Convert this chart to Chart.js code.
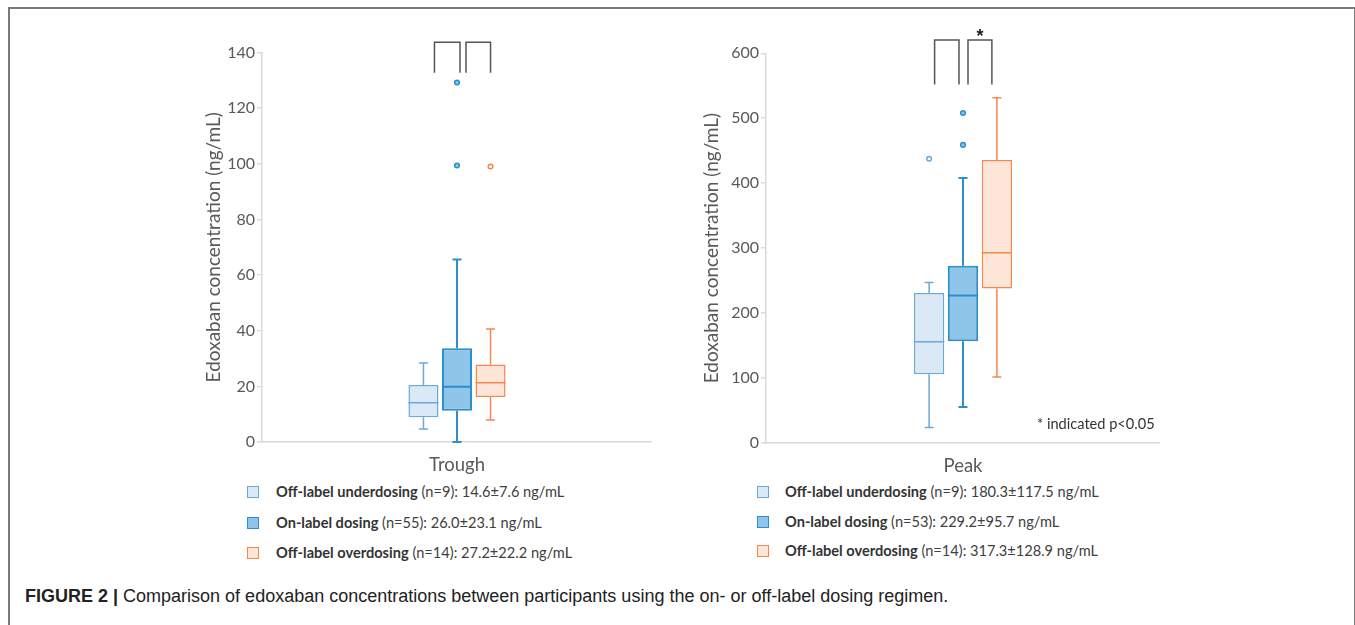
<!DOCTYPE html>
<html>
<head>
<meta charset="utf-8">
<script src="https://cdn.jsdelivr.net/npm/chart.js"></script>
<style>
  body { margin: 0; background: #fff; width: 1355px; height: 625px; overflow: hidden; position: relative; font-family: Lato, sans-serif; }
  .frame { position: absolute; left: 8px; top: 7px; width: 1344px; height: 700px; border: 2px solid #7a7a7a; border-bottom: none; }
  .box { position: absolute; }
  .legend { position: absolute; font-size: 14.6px; color: #404040; }
  .legend .row { position: absolute; white-space: nowrap; height: 20px; line-height: 20px; }
  .legend .sq { position: absolute; width: 10px; height: 10px; border: 1.5px solid; top: 4px; }
  .legend .txt { position: absolute; }
  .legend b { color: #333; }
  .note { position: absolute; left: 1037px; top: 415px; font-size: 14.6px; color: #333; white-space: nowrap; }
  .caption { position: absolute; left: 25px; top: 586px; font-family: "Liberation Sans", Arial, sans-serif; font-size: 18px; color: #222; white-space: nowrap; }
</style>
</head>
<body>
<div class="frame"></div>

<div class="box" style="left:190px; top:20px; width:462px; height:460px;">
  <canvas id="troughChart"></canvas>
</div>
<div class="box" style="left:690px; top:20px; width:470px; height:461px;">
  <canvas id="peakChart"></canvas>
</div>

<div class="note">* indicated p&lt;0.05</div>
<div class="legend" id="troughLegend"></div>
<div class="legend" id="peakLegend"></div>

<div class="caption"><b>FIGURE 2 |</b> Comparison of edoxaban concentrations between participants using the on- or off-label dosing regimen.</div>

<script>
// groups
const groups = ['Off-label underdosing', 'On-label dosing', 'Off-label overdosing'];

// trough values (ng/mL)
const troughMin = [4.7, 0, 7.9];
const troughQ1 = [8.9, 11.2, 16.2];
const troughMedian = [14.1, 19.9, 21.3];
const troughQ3 = [20.5, 33.7, 27.9];
const troughMax = [28.4, 65.6, 40.6];
const troughOutliers = [[], [99.4, 129.2], [99]];
const troughN = [9, 55, 14];
const troughMeanSd = ['14.6±7.6', '26.0±23.1', '27.2±22.2'];

// peak values (ng/mL)
const peakMin = [24, 55.5, 101.7];
const peakQ1 = [105.9, 156.7, 238];
const peakMedian = [156, 227, 292.8];
const peakQ3 = [231, 273, 435.6];
const peakMax = [247, 408, 531.6];
const peakOutliers = [[437.6], [459, 508], []];
const peakN = [9, 53, 14];
const peakMeanSd = ['180.3±117.5', '229.2±95.7', '317.3±128.9'];

const fills = ['#dbe9f6', '#8ec5e8', '#fde5d8'];
const borders = ['#6aaad9', '#2b8fcb', '#f5874f'];
const lineWidths = [1.5, 2, 1.5];
const dotFills = ['#ffffff', '#8ec5e8', '#ffffff'];

function boxPlugin(mins, meds, maxs, outs, bracket) {
  return {
    id: 'boxExtras',
    afterDatasetsDraw(chart) {
      const ctx = chart.ctx;
      const y = chart.scales.y;
      const centers = [];
      ctx.save();
      for (let i = 0; i < groups.length; i++) {
        const bar = chart.getDatasetMeta(i).data[0];
        const cx = bar.x, w = bar.width;
        centers.push(cx);
        ctx.strokeStyle = borders[i];
        ctx.lineWidth = lineWidths[i];
        const lo = chart.data.datasets[i].data[0][0];
        const hi = chart.data.datasets[i].data[0][1];
        ctx.beginPath();
        // whiskers
        ctx.moveTo(cx, y.getPixelForValue(hi));
        ctx.lineTo(cx, y.getPixelForValue(maxs[i]));
        ctx.moveTo(cx, y.getPixelForValue(lo));
        ctx.lineTo(cx, y.getPixelForValue(mins[i]));
        // caps
        ctx.moveTo(cx - 4.5, y.getPixelForValue(maxs[i]));
        ctx.lineTo(cx + 4.5, y.getPixelForValue(maxs[i]));
        ctx.moveTo(cx - 4.5, y.getPixelForValue(mins[i]));
        ctx.lineTo(cx + 4.5, y.getPixelForValue(mins[i]));
        // median
        ctx.moveTo(cx - w / 2, y.getPixelForValue(meds[i]));
        ctx.lineTo(cx + w / 2, y.getPixelForValue(meds[i]));
        ctx.stroke();
        // outliers
        outs[i].forEach(v => {
          ctx.beginPath();
          ctx.arc(cx, y.getPixelForValue(v), 2.3, 0, Math.PI * 2);
          ctx.fillStyle = dotFills[i];
          ctx.fill();
          ctx.lineWidth = 1.5;
          ctx.stroke();
        });
      }
      // significance brackets
      ctx.strokeStyle = '#555';
      ctx.lineWidth = 1.5;
      const top = y.getPixelForValue(bracket.top);
      const bot = y.getPixelForValue(bracket.bottom);
      const o = bracket.offsets;
      const pairs = [[centers[0] + o[0], centers[1] + o[1]], [centers[1] + o[2], centers[2] + o[3]]];
      pairs.forEach(p => {
        ctx.beginPath();
        ctx.moveTo(p[0], bot);
        ctx.lineTo(p[0], top);
        ctx.lineTo(p[1], top);
        ctx.lineTo(p[1], bot);
        ctx.stroke();
      });
      if (bracket.star) {
        ctx.fillStyle = '#222';
        ctx.font = 'bold 18px "Liberation Sans", Arial';
        ctx.textAlign = 'center';
        ctx.textBaseline = 'bottom';
        ctx.fillText('*', (pairs[1][0] + pairs[1][1]) / 2, top + 6);
      }
      ctx.restore();
    }
  };
}

function makeChart(id, label, q1, q3, mins, meds, maxs, outs, yMax, step, yWidth, titlePad, padTop, bracket) {
  const datasets = groups.map((g, i) => ({
    label: g,
    data: [[q1[i], q3[i]]],
    backgroundColor: fills[i],
    borderColor: borders[i],
    borderWidth: lineWidths[i],
    borderSkipped: false,
    categoryPercentage: 0.258,
    barPercentage: 0.895
  }));
  return new Chart(document.getElementById(id), {
    type: 'bar',
    data: { labels: [label], datasets },
    options: {
      responsive: true,
      maintainAspectRatio: false,
      animation: false,
      layout: { padding: { top: padTop, right: 0, left: 0, bottom: 0 } },
      plugins: { legend: { display: false }, tooltip: { enabled: false } },
      scales: {
        x: {
          grid: { display: false },
          border: { color: '#d9d9d9', width: 1.5 },
          ticks: { color: '#595959', font: { family: 'Lato', size: 18.5 }, padding: 4 },
          afterFit: s => { s.height = 38; }
        },
        y: {
          min: 0, max: yMax,
          grid: { drawOnChartArea: false, drawTicks: true, tickLength: 5, color: '#d9d9d9', lineWidth: 1.5 },
          border: { color: '#d9d9d9', width: 1.5 },
          ticks: { stepSize: step, color: '#595959', font: { family: 'Lato', size: 16 }, padding: 2 },
          title: { display: true, text: 'Edoxaban concentration (ng/mL)', color: '#595959',
                   font: { family: 'Lato', size: 19 }, padding: { top: titlePad, bottom: 0 } },
          afterFit: s => { s.width = yWidth; }
        }
      }
    },
    plugins: [boxPlugin(mins, meds, maxs, outs, bracket)]
  });
}

makeChart('troughChart', 'Trough', troughQ1, troughQ3, troughMin, troughMedian, troughMax, troughOutliers,
          140, 20, 72, 12, 32.5, { top: 143.7, bottom: 132.7, star: false, offsets: [11, 3, 9, 0] });
makeChart('peakChart', 'Peak', peakQ1, peakQ3, peakMin, peakMedian, peakMax, peakOutliers,
          600, 100, 76, 10, 33.3, { top: 620.6, bottom: 552, star: true, offsets: [5.5, -4, 5, -5] });

function buildLegend(id, left, textLeft, tops, n, meanSd) {
  const el = document.getElementById(id);
  groups.forEach((g, i) => {
    const row = document.createElement('div');
    row.className = 'row';
    row.style.left = left + 'px';
    row.style.top = tops[i] + 'px';
    row.innerHTML = '<span class="sq" style="left:0;background:' + fills[i] + ';border-color:' + borders[i] + '"></span>' +
      '<span class="txt" style="left:' + (textLeft - left) + 'px"><b>' + g + '</b> (n=' + n[i] + '): ' + meanSd[i] + ' ng/mL</span>';
    el.appendChild(row);
  });
}
buildLegend('troughLegend', 247, 276, [482, 513, 543], troughN, troughMeanSd);
buildLegend('peakLegend', 757, 785, [482, 512, 541], peakN, peakMeanSd);
</script>
</body>
</html>
